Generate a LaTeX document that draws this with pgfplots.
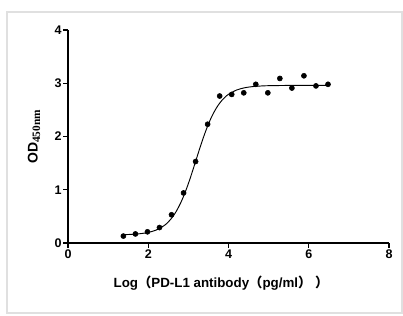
\documentclass[border=0pt]{standalone}
\usepackage{pgfplots}
\pgfplotsset{compat=1.18}
\usepackage{fontspec}
\setmainfont{Liberation Sans}
\newfontfamily\cjk{Noto Sans CJK SC}
\newfontfamily\serifb{Liberation Serif}
\begin{document}
\begin{tikzpicture}
\useasboundingbox (0pt,0pt) rectangle (302.25pt,237pt);
\draw[black!12, line width=1.1pt] (5.25pt,2.25pt) rectangle (301.5pt,228pt);
\begin{axis}[
  at={(51pt,54.75pt)}, anchor=south west,
  width=240.75pt, height=159.75pt, scale only axis,
  xmin=0, xmax=8, ymin=0, ymax=4,
  axis lines=left,
  axis line style={-, line width=1.1pt, black},
  xtick={0,2,4,6,8}, ytick={0,1,2,3,4},
  tick style={black, line width=1.1pt},
  tick align=outside, major tick length=3.6pt,
  /pgf/number format/assume math mode=true,
  ticklabel style={font=\bfseries\fontsize{9.4}{10}\selectfont},
  yticklabel style={inner sep=1.0pt},
  xticklabel style={inner sep=1.6pt},
  xlabel={\bfseries Log{\cjk （}PD-L1 antibody{\cjk （}pg/ml{\cjk ）}\ {\cjk ）}},
  xlabel style={at={(rel axis cs:0.5,0)}, anchor=center, yshift=-30pt, xshift=-5.6pt, font=\fontsize{10}{12}\selectfont},
  ylabel={\bfseries OD\textsubscript{\serifb\bfseries\fontsize{8.5}{9}\selectfont 450nm}},
  ylabel style={at={(rel axis cs:0,0.5)}, anchor=center, yshift=25.5pt, font=\fontsize{10.5}{12}\selectfont},
  clip=false,
]
\addplot[black, line width=0.7pt, smooth, no marks] coordinates {
(1.38,0.156) (1.6,0.163) (1.8,0.175) (2.0,0.198) (2.2,0.244) (2.4,0.329)
(2.5,0.396) (2.6,0.483) (2.7,0.597) (2.8,0.740) (2.9,0.914) (3.0,1.116)
(3.1,1.342) (3.2,1.579) (3.3,1.815) (3.4,2.036) (3.5,2.234) (3.6,2.401)
(3.7,2.538) (3.8,2.646) (3.9,2.729) (4.0,2.792) (4.2,2.872) (4.4,2.915)
(4.6,2.937) (4.8,2.948) (5.0,2.954) (5.5,2.959) (6.0,2.960) (6.48,2.960)
};
\addplot[only marks, mark=*, mark size=1.9pt, black] coordinates {
(1.38,0.13) (1.68,0.17) (1.98,0.21) (2.28,0.29) (2.58,0.53) (2.88,0.94)
(3.18,1.53) (3.48,2.23) (3.78,2.76) (4.08,2.79) (4.38,2.82) (4.68,2.98)
(4.98,2.82) (5.28,3.09) (5.58,2.91) (5.88,3.14) (6.18,2.95) (6.48,2.98)
};
\end{axis}
\end{tikzpicture}
\end{document}
